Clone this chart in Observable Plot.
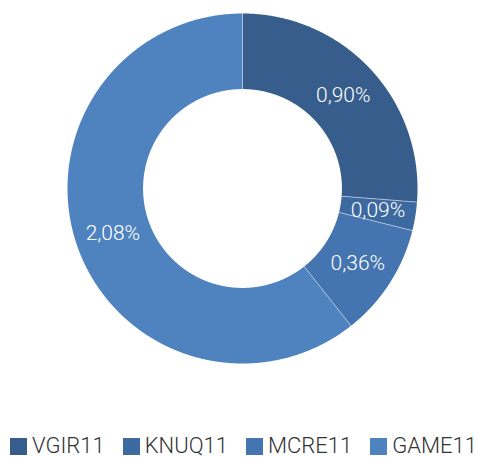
<!DOCTYPE html>
<html>
<head>
<meta charset="utf-8">
<script src="https://cdn.jsdelivr.net/npm/d3@7"></script>
<script src="https://cdn.jsdelivr.net/npm/@observablehq/plot@0.6"></script>
<style>
  html, body { margin: 0; padding: 0; background: #fff; }
  #legend { display: flex; justify-content: center; gap: 18px; margin-top: 13px; font-family: Roboto, "Liberation Sans", sans-serif; font-weight: 300; font-size: 22px; color: #333; line-height: 26px; padding-left: 2px; }
  .item { display: flex; align-items: center; }
  .sw { width: 17px; height: 17px; margin-right: 5px; }
</style>
</head>
<body>
<div id="chart"></div>
<div id="legend"></div>
<script>
const names = ["VGIR11", "KNUQ11", "MCRE11", "GAME11"];
const values = [0.90, 0.09, 0.36, 2.08];
const labels = ["0,90%", "0,09%", "0,36%", "2,08%"];
const colors = ["#365d8b", "#3c69a0", "#4575b0", "#4f83c0"];

const innerRatio = 100 / 176;
const pie = d3.pie().sort(null).value(d => d.value)(names.map((n, i) => ({name: n, value: values[i], label: labels[i]})));

const pts = [];
const seps = [];
const cents = [];
for (const a of pie) {
  const n = Math.max(2, Math.ceil((a.endAngle - a.startAngle) / 0.005));
  for (let k = 0; k <= n; k++) {
    const t = a.startAngle + (a.endAngle - a.startAngle) * k / n;
    pts.push({name: a.data.name, x: Math.sin(t), y: Math.cos(t)});
  }
  for (let k = n; k >= 0; k--) {
    const t = a.startAngle + (a.endAngle - a.startAngle) * k / n;
    pts.push({name: a.data.name, x: innerRatio * Math.sin(t), y: innerRatio * Math.cos(t)});
  }
  seps.push({id: a.data.name, x: innerRatio * Math.sin(a.startAngle), y: innerRatio * Math.cos(a.startAngle)});
  seps.push({id: a.data.name, x: Math.sin(a.startAngle), y: Math.cos(a.startAngle)});
  const m = (a.startAngle + a.endAngle) / 2, r = (1 + innerRatio) / 2;
  cents.push({label: a.data.label, x: r * Math.sin(m), y: r * Math.cos(m)});
}

const cx = 242, cy = 188, R = 175;
const chart = Plot.plot({
  width: 485,
  height: 420,
  x: {domain: [-1, 1], range: [cx - R, cx + R], axis: null},
  y: {domain: [-1, 1], range: [cy + R, cy - R], axis: null},
  color: {domain: names, range: colors},
  marks: [
    Plot.line(pts, {x: "x", y: "y", z: "name", fill: "name", stroke: "none", curve: "linear-closed"}),
    Plot.line(seps, {x: "x", y: "y", z: "id", stroke: "#c9d6e6", strokeWidth: 0.7}),
    Plot.text(cents, {x: "x", y: "y", text: "label", fill: "white", fontSize: 21, fontWeight: 300, fontFamily: "Roboto, 'Liberation Sans', sans-serif"})
  ]
});
document.getElementById("chart").appendChild(chart);

const leg = document.getElementById("legend");
names.forEach((n, i) => {
  const it = document.createElement("div");
  it.className = "item";
  const sw = document.createElement("div");
  sw.className = "sw";
  sw.style.background = colors[i];
  const tx = document.createElement("span");
  tx.textContent = n;
  it.appendChild(sw); it.appendChild(tx);
  leg.appendChild(it);
});
</script>
</body>
</html>
